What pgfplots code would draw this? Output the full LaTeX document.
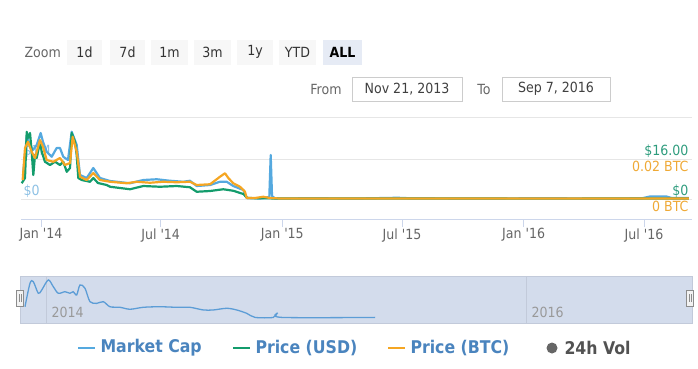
\documentclass[border=0pt]{standalone}
\usepackage{fontspec}
\setmainfont{DejaVu Sans Condensed}[Ligatures=TeXOff]
\usepackage{pgfplots}
\pgfplotsset{compat=1.18}
\definecolor{cblue}{HTML}{55A9DF}
\definecolor{cgreen}{HTML}{139C6C}
\definecolor{corange}{HTML}{F5A623}
\definecolor{glabel}{HTML}{2E9C7D}
\definecolor{olabel}{HTML}{EFA935}
\definecolor{legtxt}{HTML}{4A84BE}
\definecolor{axisline}{HTML}{CCD6EB}
\definecolor{gridc}{HTML}{E6E6E6}
\definecolor{navfill}{HTML}{D3DCEC}
\definecolor{navborder}{HTML}{C2CADA}
\definecolor{navline}{HTML}{5C9DD6}
\definecolor{tickc}{HTML}{666666}
\definecolor{btnbg}{HTML}{F7F7F7}
\definecolor{btnsel}{HTML}{E6EBF5}
\definecolor{boxc}{HTML}{CCCCCC}
\definecolor{leftlab}{HTML}{8CC0E4}
\begin{document}
\begin{tikzpicture}
\path[use as bounding box] (0,0) rectangle (698pt,-368pt);
\begin{scope}[x=1pt,y=-1pt]
% zoom buttons
\node[anchor=west,text=tickc,font=\fontsize{14}{16}\selectfont] at (21,52) {Zoom};
\foreach \a/\b/\l in {67/102/1d,110/145/7d,151/188/1m,194/231/3m,237/273/1y,279/316/YTD}{
  \fill[btnbg] (\a,40) rectangle (\b,65);
  \node[text=black!80,font=\fontsize{14}{16}\selectfont] at ({(\a+\b)/2},52) {\l};
}
\fill[btnsel] (323,40) rectangle (362,65);
\node[text=black,font=\fontsize{14}{16}\selectfont\bfseries] at (342.5,52) {ALL};
% from / to
\node[text=tickc,font=\fontsize{14}{16}\selectfont] at (326,89) {From};
\draw[boxc,fill=white] (352,77) rectangle (462,101);
\node[text=black!75,font=\fontsize{14}{16}\selectfont] at (407,89) {Nov 21, 2013};
\node[text=tickc,font=\fontsize{14}{16}\selectfont] at (484,89) {To};
\draw[boxc,fill=white] (502,77) rectangle (610,101);
\node[text=black!75,font=\fontsize{14}{16}\selectfont] at (556,89) {Sep 7, 2016};
\draw[gridc,line width=1pt] (20,117) -- (692,117);
% left axis labels (under lines)
\node[anchor=west,text=leftlab,font=\fontsize{14}{16}\selectfont] at (20,151) {\$1M};
\node[anchor=west,text=leftlab,font=\fontsize{14}{16}\selectfont] at (20,191) {\$0};
% navigator background
\draw[navborder,fill=navfill] (20,276) rectangle (692,323);
\draw[navborder] (46,276) -- (46,323);
\draw[navborder] (526,276) -- (526,323);
\node[anchor=west,text=black!40,font=\fontsize{14}{16}\selectfont] at (48,312) {2014};
\node[anchor=west,text=black!40,font=\fontsize{14}{16}\selectfont] at (528,312) {2016};
\end{scope}

\begin{axis}[at={(21pt,-219pt)},anchor=south west,scale only axis,
  width=671pt,height=91pt,
  xmin=10.75,xmax=1025.6,ymin=-8,ymax=28.4,
  axis x line*=bottom, axis y line*=left,
  axis line style={-},
  x axis line style={axisline,line width=1pt},
  y axis line style={draw=none},
  ytick={0,16}, yticklabels={}, ymajorgrids,
  grid style={gridc,line width=1pt},
  ytick style={draw=none},
  xtick={41,222,406,587,771,953},
  xticklabels={Jan '14,Jul '14,Jan '15,Jul '15,Jan '16,Jul '16},
  x tick style={axisline,line width=1pt},
  tick align=outside, major tick length=8pt,
  xticklabel style={text=tickc,font=\fontsize{14}{16}\selectfont,yshift=2pt},
  clip=false]
\addplot[cblue,line width=2.2pt,line join=round] coordinates {
(13.8,9.6)(19.4,24.9)(24.4,21.6)(28.9,19.6)(34.5,21.6)(40.5,26.4)(44.0,22.9)
(49.6,18.9)(57.2,16.9)(64.7,20.4)(69.7,20.4)(74.7,16.9)(81.8,15.6)(87.4,26.9)
(95.0,21.6)(100.0,9.6)(110.1,8.4)(120.1,12.4)(130.2,8.4)(145.4,7.2)(175.6,6.3)
(195.7,7.6)(216.0,7.9)(236.1,7.3)(256.2,6.9)(266.3,7.3)(276.5,5.2)(296.6,5.6)
(311.7,6.9)(321.9,6.9)(331.8,5.2)(347.0,3.6)(352.1,0.4)(372.2,0.2)(386.3,0.8)
(388.4,17.6)(390.4,1.2)(394.9,0.2)(450,0.3)(520,0.2)(580,0.5)(600,0.3)(700,0.2)
(800,0.3)(900,0.2)(950,0.3)(962,1.0)(987,1.0)(995,0.4)(1021,0.4)};
\addplot[cgreen,line width=2.2pt,line join=round] coordinates {
(11.8,6.3)(16.8,8.4)(19.4,26.9)(21.3,24.4)(24.4,26.4)(26.9,18.9)(29.4,9.6)
(31.9,17.6)(34.5,16.4)(39.5,22.9)(42.1,18.9)(47.0,14.9)(54.6,13.6)(62.2,14.9)
(69.7,13.6)(74.7,14.9)(79.9,10.9)(84.9,12.4)(87.4,26.4)(92.4,22.9)(95.0,17.6)
(97.4,8.4)(102.6,7.6)(115.1,6.9)(120.1,8.4)(127.2,6.4)(140.4,5.6)(145.4,4.9)
(175.6,3.9)(195.7,5.2)(221.0,4.9)(246.2,5.2)(266.3,4.7)(276.5,2.9)(296.6,3.2)
(316.7,3.9)(331.8,3.3)(347.0,2.0)(353.0,0.4)(372.2,0.3)(402.5,0.2)(600,0.2)
(800,0.15)(1021,0.2)};
\addplot[corange,line width=2.2pt,line join=round] coordinates {
(13.3,7.6)(16.8,20.4)(21.3,22.9)(26.9,18.9)(31.9,16.4)(39.5,23.6)(44.0,20.9)
(49.6,15.6)(59.6,14.9)(69.7,16.4)(77.3,13.6)(84.9,14.4)(88.9,24.9)(95.0,18.9)
(100.0,8.9)(110.1,7.6)(120.1,10.4)(130.2,7.6)(145.4,6.9)(170.6,6.3)(185.7,6.9)
(205.9,6.5)(225.5,6.9)(246.2,6.7)(266.3,6.9)(276.5,5.6)(296.6,5.9)(311.7,8.9)
(319.3,10.3)(324.3,8.4)(331.8,6.3)(342.0,4.9)(349.5,2.9)(352.1,0.4)(364.6,0.4)
(377.2,0.9)(387.3,0.4)(402.5,0.2)(600,0.2)(800,0.2)(1021,0.2)};
\end{axis}

\begin{axis}[at={(20pt,-323pt)},anchor=south west,scale only axis,
  width=672pt,height=47pt,
  xmin=1.5,xmax=1023.5,ymin=-3.9,ymax=29.6,hide axis]
\addplot[navline,line width=1.3pt,smooth] coordinates {
(9.1,7.7)(16.7,24.4)(21.7,25.6)(29.3,17.3)(34.5,19.6)(44.5,26.8)(52.1,22.0)
(59.7,17.3)(69.9,18.4)(77.5,17.3)(82.5,18.4)(87.7,16.1)(92.7,23.2)(100.3,20.9)
(107.9,11.3)(118.1,10.1)(128.2,11.3)(138.3,7.7)(153.6,7.3)(168.8,5.9)(189.0,7.3)
(214.4,7.7)(239.8,7.3)(260.0,7.3)(280.3,5.4)(295.5,5.4)(315.8,6.6)(331.0,5.4)
(346.3,3.0)(358.9,0.1)(386.7,0.1)(393.4,3.4)(399.5,0.1)(541.4,0.1)};
\end{axis}

\begin{scope}[x=1pt,y=-1pt]
% right axis labels
\node[anchor=east,text=glabel,font=\fontsize{14}{16}\selectfont] at (692,151) {\$16.00};
\node[anchor=east,text=olabel,font=\fontsize{14}{16}\selectfont] at (692,166) {0.02 BTC};
\node[anchor=east,text=glabel,font=\fontsize{14}{16}\selectfont] at (692,191) {\$0};
\node[anchor=east,text=olabel,font=\fontsize{14}{16}\selectfont] at (692,206) {0 BTC};
% navigator handles
\foreach \hx in {20,690}{
  \draw[black!45,fill=black!5] ({\hx-3.5},290) rectangle ({\hx+3.5},306);
  \draw[black!45] ({\hx-1},294) -- ({\hx-1},302);
  \draw[black!45] ({\hx+1},294) -- ({\hx+1},302);
}
% legend
\draw[cblue,line width=2pt] (78,348) -- (95,348);
\node[anchor=west,text=legtxt,font=\fontsize{17.5}{19}\selectfont\bfseries] at (97,348) {Market Cap};
\draw[cgreen,line width=2pt] (233,348) -- (250,348);
\node[anchor=west,text=legtxt,font=\fontsize{17.5}{19}\selectfont\bfseries] at (252,348) {Price (USD)};
\draw[corange,line width=2pt] (388,348) -- (405,348);
\node[anchor=west,text=legtxt,font=\fontsize{17.5}{19}\selectfont\bfseries] at (407,348) {Price (BTC)};
\fill[black!60] (552,348) circle (5.5);
\node[anchor=west,text=black!68,font=\fontsize{17.5}{19}\selectfont\bfseries] at (561,348) {24h Vol};
\end{scope}
\end{tikzpicture}
\end{document}
